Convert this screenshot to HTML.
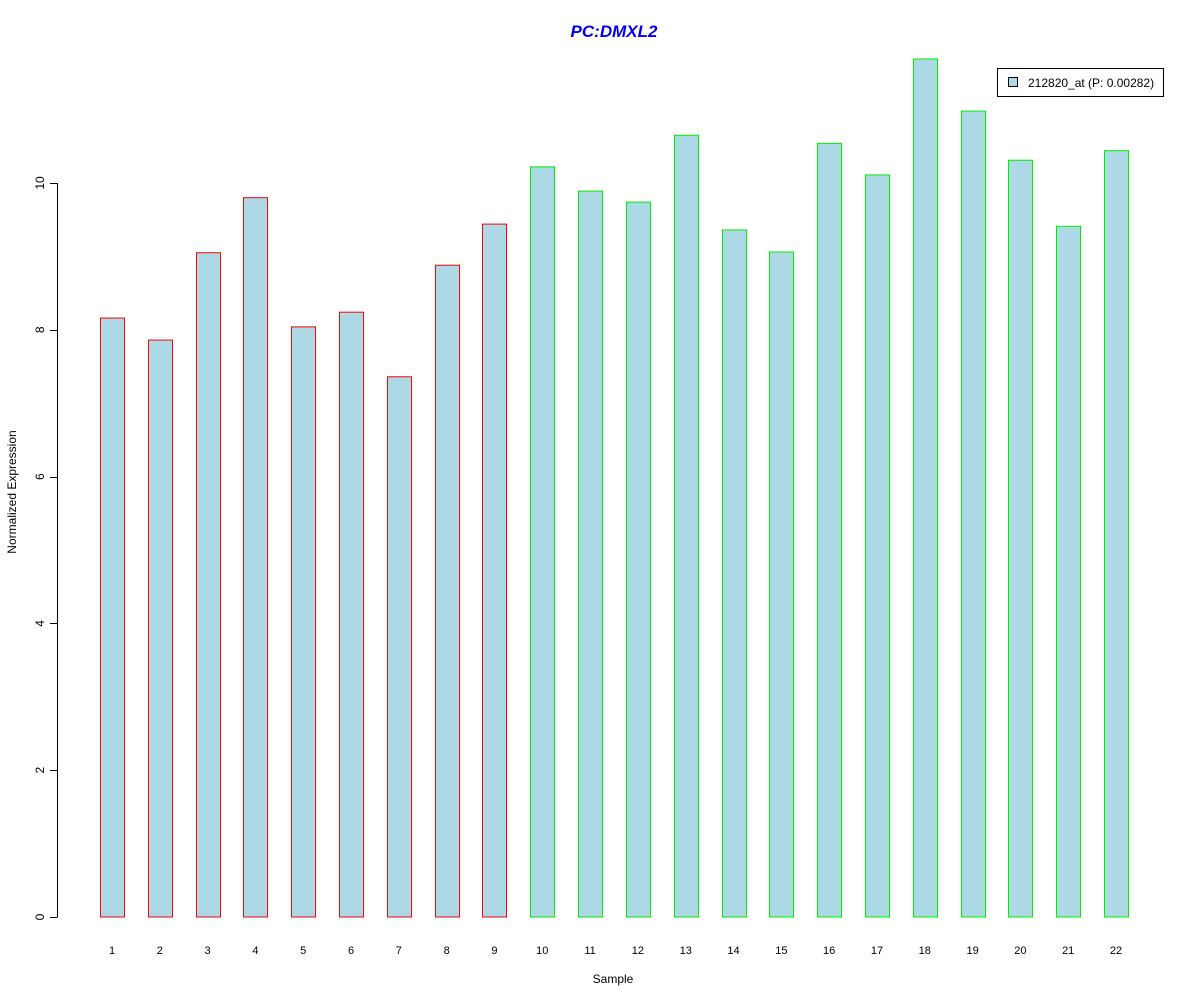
<!DOCTYPE html>
<html><head><meta charset="utf-8"><style>
html,body{margin:0;padding:0;background:#fff;}
svg{display:block;font-family:"Liberation Sans",Arial,sans-serif;}
</style></head><body>
<svg id="chart" width="1200" height="1000" viewBox="0 0 1200 1000">
<text x="614" y="37" text-anchor="middle" font-size="17" font-weight="bold" font-style="italic" fill="#0000ee">PC:DMXL2</text>
<g id="yaxis"></g>
<g id="bars"></g>
<g id="xlabels"></g>
<text x="613" y="983" text-anchor="middle" font-size="12">Sample</text>
<text transform="translate(16,492) rotate(-90)" text-anchor="middle" font-size="12">Normalized Expression</text>
<g>
<rect x="997.5" y="68.5" width="166" height="28" fill="#fff" stroke="#000"/>
<rect x="1008.5" y="77.5" width="9" height="9" fill="#add8e6" stroke="#000"/>
<text x="1028" y="87" font-size="12">212820_at (P: 0.00282)</text>
</g>
</svg>
<script>
const categories=["1","2","3","4","5","6","7","8","9","10","11","12","13","14","15","16","17","18","19","20","21","22"];
const values=[8.16,7.86,9.05,9.80,8.04,8.24,7.36,8.88,9.44,10.22,9.89,9.74,10.65,9.36,9.06,10.54,10.11,11.69,10.98,10.31,9.41,10.44];
const groups=["red","red","red","red","red","red","red","red","red","green","green","green","green","green","green","green","green","green","green","green","green","green"];
const yTicks=[0,2,4,6,8,10];
const NS="http://www.w3.org/2000/svg";
const y=v=>917-v*73.4;
const x=i=>112+i*47.81;
const mk=(t,a,p)=>{const e=document.createElementNS(NS,t);for(const k in a)e.setAttribute(k,a[k]);p.appendChild(e);return e;};
const ya=document.getElementById('yaxis');
const al=mk('line',{x1:57.5,x2:57.5,y1:y(0),y2:y(yTicks[yTicks.length-1]),stroke:'#000'},ya);


yTicks.forEach(t=>{
 const l=mk('line',{x1:50,x2:57.5,y1:Math.round(y(t))+0.5,y2:Math.round(y(t))+0.5,stroke:'#000'},ya);
 
 
 const tx=mk('text',{transform:`translate(44,${y(t)}) rotate(-90)`,'text-anchor':'middle','font-size':12},ya);
 tx.textContent=t;
 
 
});
const bg=document.getElementById('bars'),xl=document.getElementById('xlabels');
values.forEach((v,i)=>{
 const r=mk('rect',{x:Math.round(x(i)-12)+0.5,y:y(v),width:24,height:y(0)-y(v),fill:'#add8e6',stroke:groups[i]==='red'?'#ff0000':'#00ee00'},bg);
 
 
 const t=mk('text',{x:x(i),y:954,'text-anchor':'middle','font-size':11},xl);
 t.textContent=categories[i];
 
 
});
</script>
</body></html>
